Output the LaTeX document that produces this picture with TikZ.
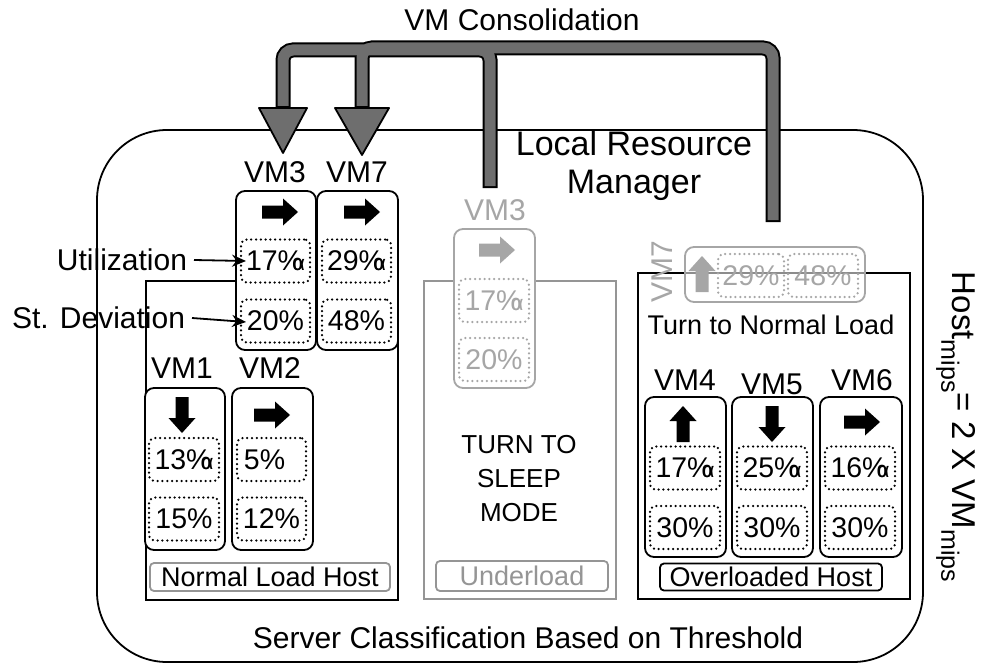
\documentclass[tikz,border=0pt]{standalone}
\usepackage{fontspec}
\setmainfont{Liberation Sans}
\usetikzlibrary{arrows.meta}
\definecolor{lgray}{HTML}{A6A6A6}
\definecolor{mgray}{HTML}{959595}
\definecolor{pipegray}{HTML}{6E6E6E}
\newcommand\pa[1]{#1\%\kern-0.36em{\fontsize{21}{21}\selectfont α}}
\begin{document}
\begin{tikzpicture}[x=1pt,y=-1pt,
  every node/.style={inner sep=0pt,outer sep=0pt},
  vmbox/.style={draw,line width=1.8pt,rounded corners=9pt,fill=white,minimum width=80pt,minimum height=159pt},
  dotbox/.style={draw,line width=2.5pt,dash pattern=on 0pt off 4.8pt,line cap=round,rounded corners=6pt,
     minimum width=70pt,minimum height=43pt,font=\fontsize{28.5}{28.5}\selectfont},
  hostbox/.style={draw,line width=1.8pt},
  lbl/.style={font=\fontsize{30}{32}\selectfont},
  mid/.style={font=\fontsize{26}{34}\selectfont},
  tagbox/.style={draw,line width=1.8pt,rounded corners=4pt,font=\fontsize{27}{27}\selectfont},
  blk/.pic={\fill (-18,-6.5) -- (3,-6.5) -- (3,-13.5) -- (18,0) -- (3,13.5) -- (3,6.5) -- (-18,6.5) -- cycle;},
  pipeout/.style={line width=15pt,draw=black,rounded corners=10pt},
  pipein/.style={line width=11pt,draw=pipegray,rounded corners=10pt},
  headst/.style={fill=pipegray,draw=black,line width=1.8pt,line join=round}
]
\useasboundingbox (0,0) rectangle (985,666);

% outer manager box
\draw[line width=1.8pt,rounded corners=70pt] (97,130) rectangle (923,662);
\node[font=\fontsize{34}{38}\selectfont,align=center] (lrm) at (634,166) {Local Resource\\Manager};
\node[lbl] (cons) at (522,20) {VM Consolidation};
\node[lbl] (scb) at (528,638) {Server Classification Based on Threshold};
\node[font=\fontsize{33}{33}\selectfont,rotate=-90] (hm) at (956,427)
  {Host\raisebox{-0.35em}{\fontsize{25}{25}\selectfont mips}= 2 X VM\raisebox{-0.35em}{\fontsize{25}{25}\selectfont mips}};

% ---------- normal load host ----------
\draw[hostbox] (146,281) rectangle (398,600);
\node[lbl] (l3) at (275,172) {VM3};
\node[lbl] (l7) at (357,172) {VM7};
\node[vmbox] (vm3) at (276,270.5) {};
\node[vmbox,minimum width=81pt] (vm7) at (357.5,270.5) {};
\pic[color=black] at (280,212) {blk};
\pic[color=black] at (362,212) {blk};
\node[dotbox,minimum width=69pt] (d31) at (275.5,261) {\pa{17}};
\node[dotbox,minimum width=69pt] (d32) at (275.5,321) {20\%};
\node[dotbox,minimum width=69pt] (d71) at (356.5,261) {\pa{29}};
\node[dotbox,minimum width=69pt] (d72) at (356.5,321) {48\%};

\node[lbl,anchor=east] (ut) at (187,260) {Utilization};
\node[lbl,anchor=east] (sd) at (185,318) {St. Deviation};
\draw[line width=1.8pt,-{Stealth[length=14pt,width=12pt]}] ([xshift=7pt]ut.east) -- ([xshift=5pt]d31.west);
\draw[line width=1.8pt,-{Stealth[length=14pt,width=12pt]}] ([xshift=7pt]sd.east) -- ([xshift=5pt,yshift=-1pt]d32.west);

\node[lbl] (l1) at (182,368) {VM1};
\node[lbl] (l2) at (270,368) {VM2};
\node[vmbox,minimum height=162pt] (vm1) at (185,469) {};
\node[vmbox,minimum height=162pt,minimum width=81pt] (vm2) at (272.5,469) {};
\pic[color=black,rotate=-90] at (182,415) {blk};
\pic[color=black] at (272,415) {blk};
\node[dotbox] (d11) at (184,459.5) {\pa{13}};
\node[dotbox] (d12) at (184,519) {15\%};
\node[dotbox,minimum width=69pt] (d21) at (271.5,459.5) {5\%\hspace*{14pt}};
\node[dotbox,minimum width=69pt] (d22) at (271.5,519) {12\%};
\node[tagbox,draw=mgray,minimum width=240pt,minimum height=28pt] (nlh) at (270,577) {Normal Load Host};

% ---------- underload host ----------
\draw[hostbox,draw=mgray] (424,281) rectangle (616,599);
\node[lbl,text=lgray] (lg3) at (495,210) {VM3};
\node[vmbox,draw=lgray,minimum width=81pt] (gvm3) at (494.5,308.5) {};
\pic[color=lgray] at (497,250) {blk};
\node[dotbox,draw=lgray,text=lgray] (g31) at (494,300.5) {\pa{17}};
\node[dotbox,draw=lgray,text=lgray] (g32) at (494,359.5) {20\%};
\node[mid,align=center] (sleep) at (519,479) {TURN TO\\SLEEP\\MODE};
\node[tagbox,draw=mgray,text=mgray,minimum width=172pt,minimum height=30pt] (ul) at (522,576) {Underload};

% ---------- overloaded host ----------
\draw[hostbox] (638,273) rectangle (910,599);
\node[draw=lgray,line width=1.8pt,rounded corners=9pt,fill=white,fill opacity=0.55,
  minimum width=180pt,minimum height=55pt] (gvm7) at (775,274.5) {};
\node[lbl,text=lgray,rotate=90] (lg7) at (662,272) {VM7};
\pic[color=lgray,rotate=90] at (702,274) {blk};
\node[dotbox,draw=lgray,text=lgray,minimum width=66pt] (g71) at (751,275.5) {29\%};
\node[dotbox,draw=lgray,text=lgray] (g72) at (823,275.5) {48\%};
\node[font=\fontsize{27}{27}\selectfont] (tnl) at (771,325) {Turn to Normal Load};

\node[lbl] (l4) at (685,380) {VM4};
\node[lbl] (l5) at (772,384) {VM5};
\node[lbl] (l6) at (862,380) {VM6};
\node[vmbox,minimum width=81pt,minimum height=160pt] (vm4) at (685.5,477) {};
\node[vmbox,minimum width=81pt,minimum height=160pt] (vm5) at (772.5,477) {};
\node[vmbox,minimum width=82pt,minimum height=160pt] (vm6) at (861,477) {};
\pic[color=black,rotate=90] at (683,424) {blk};
\pic[color=black,rotate=-90] at (772,424) {blk};
\pic[color=black] at (862,422) {blk};
\node[dotbox] (d41) at (685,468) {\pa{17}};
\node[dotbox] (d42) at (685,527.5) {30\%};
\node[dotbox] (d51) at (772,468) {\pa{25}};
\node[dotbox] (d52) at (772,527.5) {30\%};
\node[dotbox] (d61) at (860,468) {\pa{16}};
\node[dotbox] (d62) at (860,527.5) {30\%};
\node[tagbox,minimum width=222pt,minimum height=27pt] (olh) at (771,577) {Overloaded Host};

% ---------- consolidation pipes ----------
\coordinate (srcA) at (490,188);
\coordinate (srcB) at (773,222);
\coordinate (baseA) at (283,108);
\coordinate (baseB) at (362,108);
\coordinate (tipA) at (283,153);
\coordinate (tipB) at (362,155);
\draw[pipeout] (srcA) -- (490,50) -- (283,50) -- (baseA);
\draw[pipeout] (srcB) -- (773,48) -- (362,48) -- (baseB);
\draw[pipein,shorten <=2pt] (srcA) -- (490,50) -- (283,50) -- ([yshift=2pt]baseA);
\draw[pipein,shorten <=2pt] (srcB) -- (773,48) -- (362,48) -- ([yshift=2pt]baseB);
\draw[headst] ([xshift=-24pt]baseA) -- ([xshift=24pt]baseA) -- (tipA) -- cycle;
\draw[headst] ([xshift=-27pt]baseB) -- ([xshift=27pt]baseB) -- (tipB) -- cycle;
\end{tikzpicture}
\end{document}
